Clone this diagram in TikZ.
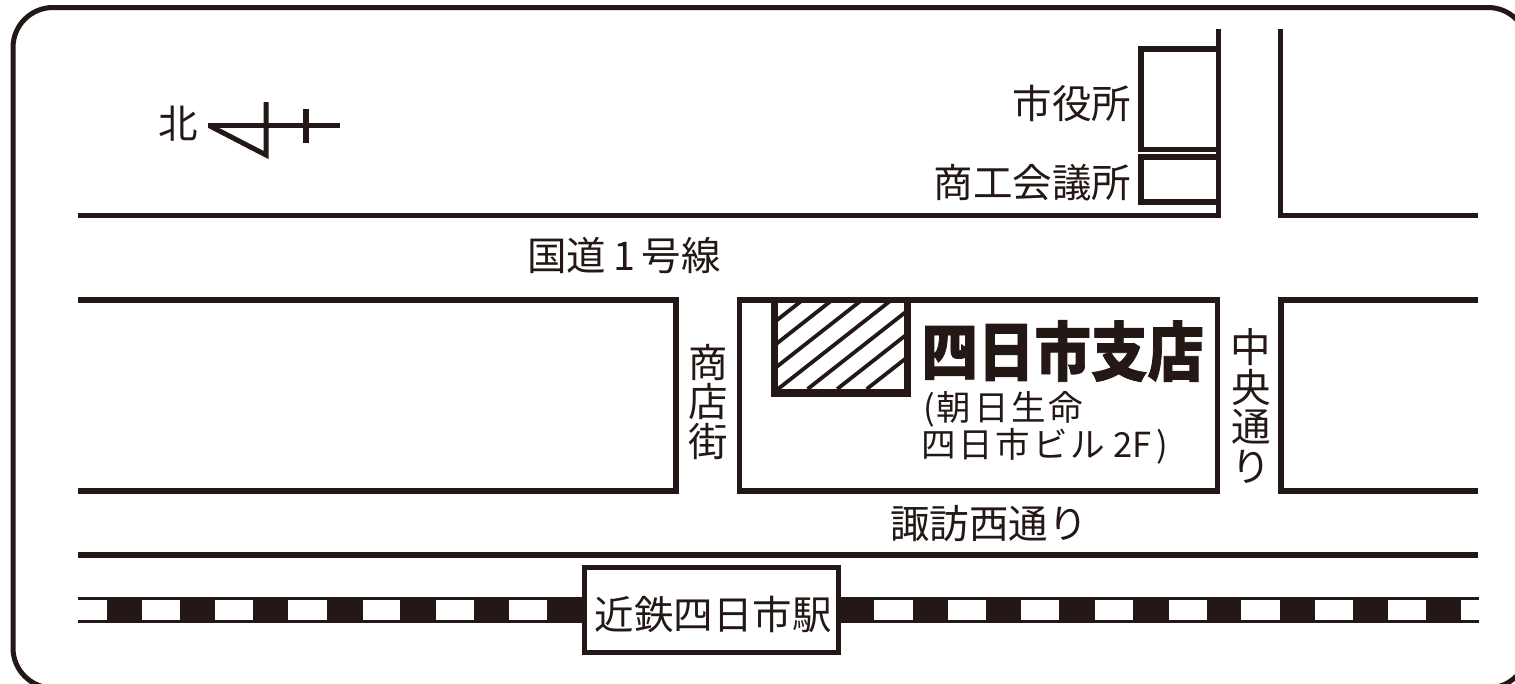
\documentclass[tikz,border=0pt]{standalone}
\usepackage{fontspec}
\setmainfont[BoldFeatures={FakeBold=1.3}]{Noto Sans CJK JP}
\definecolor{ink}{HTML}{231815}
\newcommand{\fs}[1]{\fontsize{#1}{#1}\selectfont}
\tikzset{
  road/.style={draw=ink,line width=5pt,line cap=butt,line join=miter},
  bldg/.style={draw=ink,line width=5.5pt,line join=miter},
  label/.style={text=ink,inner sep=0pt,outer sep=0pt,font=\fs{39.5}},
  vlabel/.style={label,align=center}
}
\begin{document}
\begin{tikzpicture}[x=1pt,y=-1pt]
\clip (0,0) rectangle (1515,683);
\fill[white] (0,0) rectangle (1515,683);
% frame
\draw[draw=ink,line width=5pt,rounded corners=40pt] (13,7.5) rectangle (1528,688);
% roads top
\draw[road] (78,215) -- (1218,215) (1218,217.5) -- (1218,29);
\draw[road] (1280,29) -- (1280,215) -- (1478,215);
% buildings
\draw[bldg] (1218,49) -- (1141,49) -- (1141,149.5) -- (1218,149.5);
\draw[bldg] (1218,157) -- (1141,157) -- (1141,202) -- (1218,202);
% middle blocks
\draw[road,line width=5.5pt] (78,300) -- (676,300) -- (676,491) -- (78,491);
\draw[road,line width=5.5pt] (1478,300) -- (1281,300) -- (1281,491) -- (1478,491);
\draw[road,line width=5.5pt] (739.5,300) rectangle (1217.5,491);
% hatched
\begin{scope}
\clip (775,300) rectangle (907,393);
\foreach \k in {-3,...,3}{
  \draw[draw=ink,line width=3.8pt] ({778+29.6*\k},389) -- ++(150,-117.75);
}
\end{scope}
\draw[draw=ink,line width=6.5pt] (774.5,300) -- (774.5,393);
\draw[draw=ink,line width=7.5pt] (771.25,393) -- (911,393);
\draw[draw=ink,line width=7.5pt] (907.25,393) -- (907.25,300);
% lower road
\draw[road,line width=6pt] (78,555) -- (1478,555);
% track
\fill[ink] (78,596.7) rectangle (1478.5,623.3);
\foreach \a/\b in {78/107,141.5/180,215/253,288/327,362.5/400,435.5/473.5,508.7/546.6,874.3/913,948/986,1021/1059,1095/1133,1168.5/1206.8,1241.4/1279.7,1314.8/1353,1388/1426,1461/1478.5}{
  \fill[white] (\a,600) rectangle (\b,620);
}
\draw[draw=ink,fill=white,line width=5pt] (584.5,567.5) rectangle (838.5,652.5);
% north arrow
\draw[draw=ink,line width=5pt,line join=miter] (208,125.5) -- (340,125.5);
\draw[draw=ink,line width=5pt,line join=miter] (266,102) -- (266,155) -- (209,125.5);
\draw[draw=ink,line width=6pt] (306,109) -- (306,143);
% labels
\node[label] (north) at (178.5,124) {北};
\node[label,anchor=east] (cityhall) at (1131,103) {市役所};
\node[label,anchor=east] (chamber) at (1131,183) {商工会議所};
\node[label] (route1) at (624,256) {国道\kern7pt 1\kern7pt 号線};
\node[vlabel] (shotengai) at (708,402) {\fontsize{39.5}{38}\selectfont 商\\店\\街};
\node[label,align=center] (chuo) at (1251,406) {\fontsize{40.5}{42}\selectfont 中\\央\\通\\り};
\node[label] (suwa) at (989,524) {諏訪西通り};
\node[label] (station) at (713,614) {近鉄四日市駅};
\node[label,anchor=west,font={\fs{56.5}\bfseries}] (branch) at (921.5,351) {\scalebox{1}[1.14]{四日市支店}};
\node[label,anchor=west,font=\fs{34.5}] (asahi1) at (923,409) {(\kern2pt\addfontfeature{LetterSpace=8.5}朝日生命};
\node[label,anchor=west,font=\fs{34.5}] (asahi2) at (921,446) {{\addfontfeature{LetterSpace=8.5}四日市ビル}\kern8pt 2F\kern5pt)};
\end{tikzpicture}
\end{document}
